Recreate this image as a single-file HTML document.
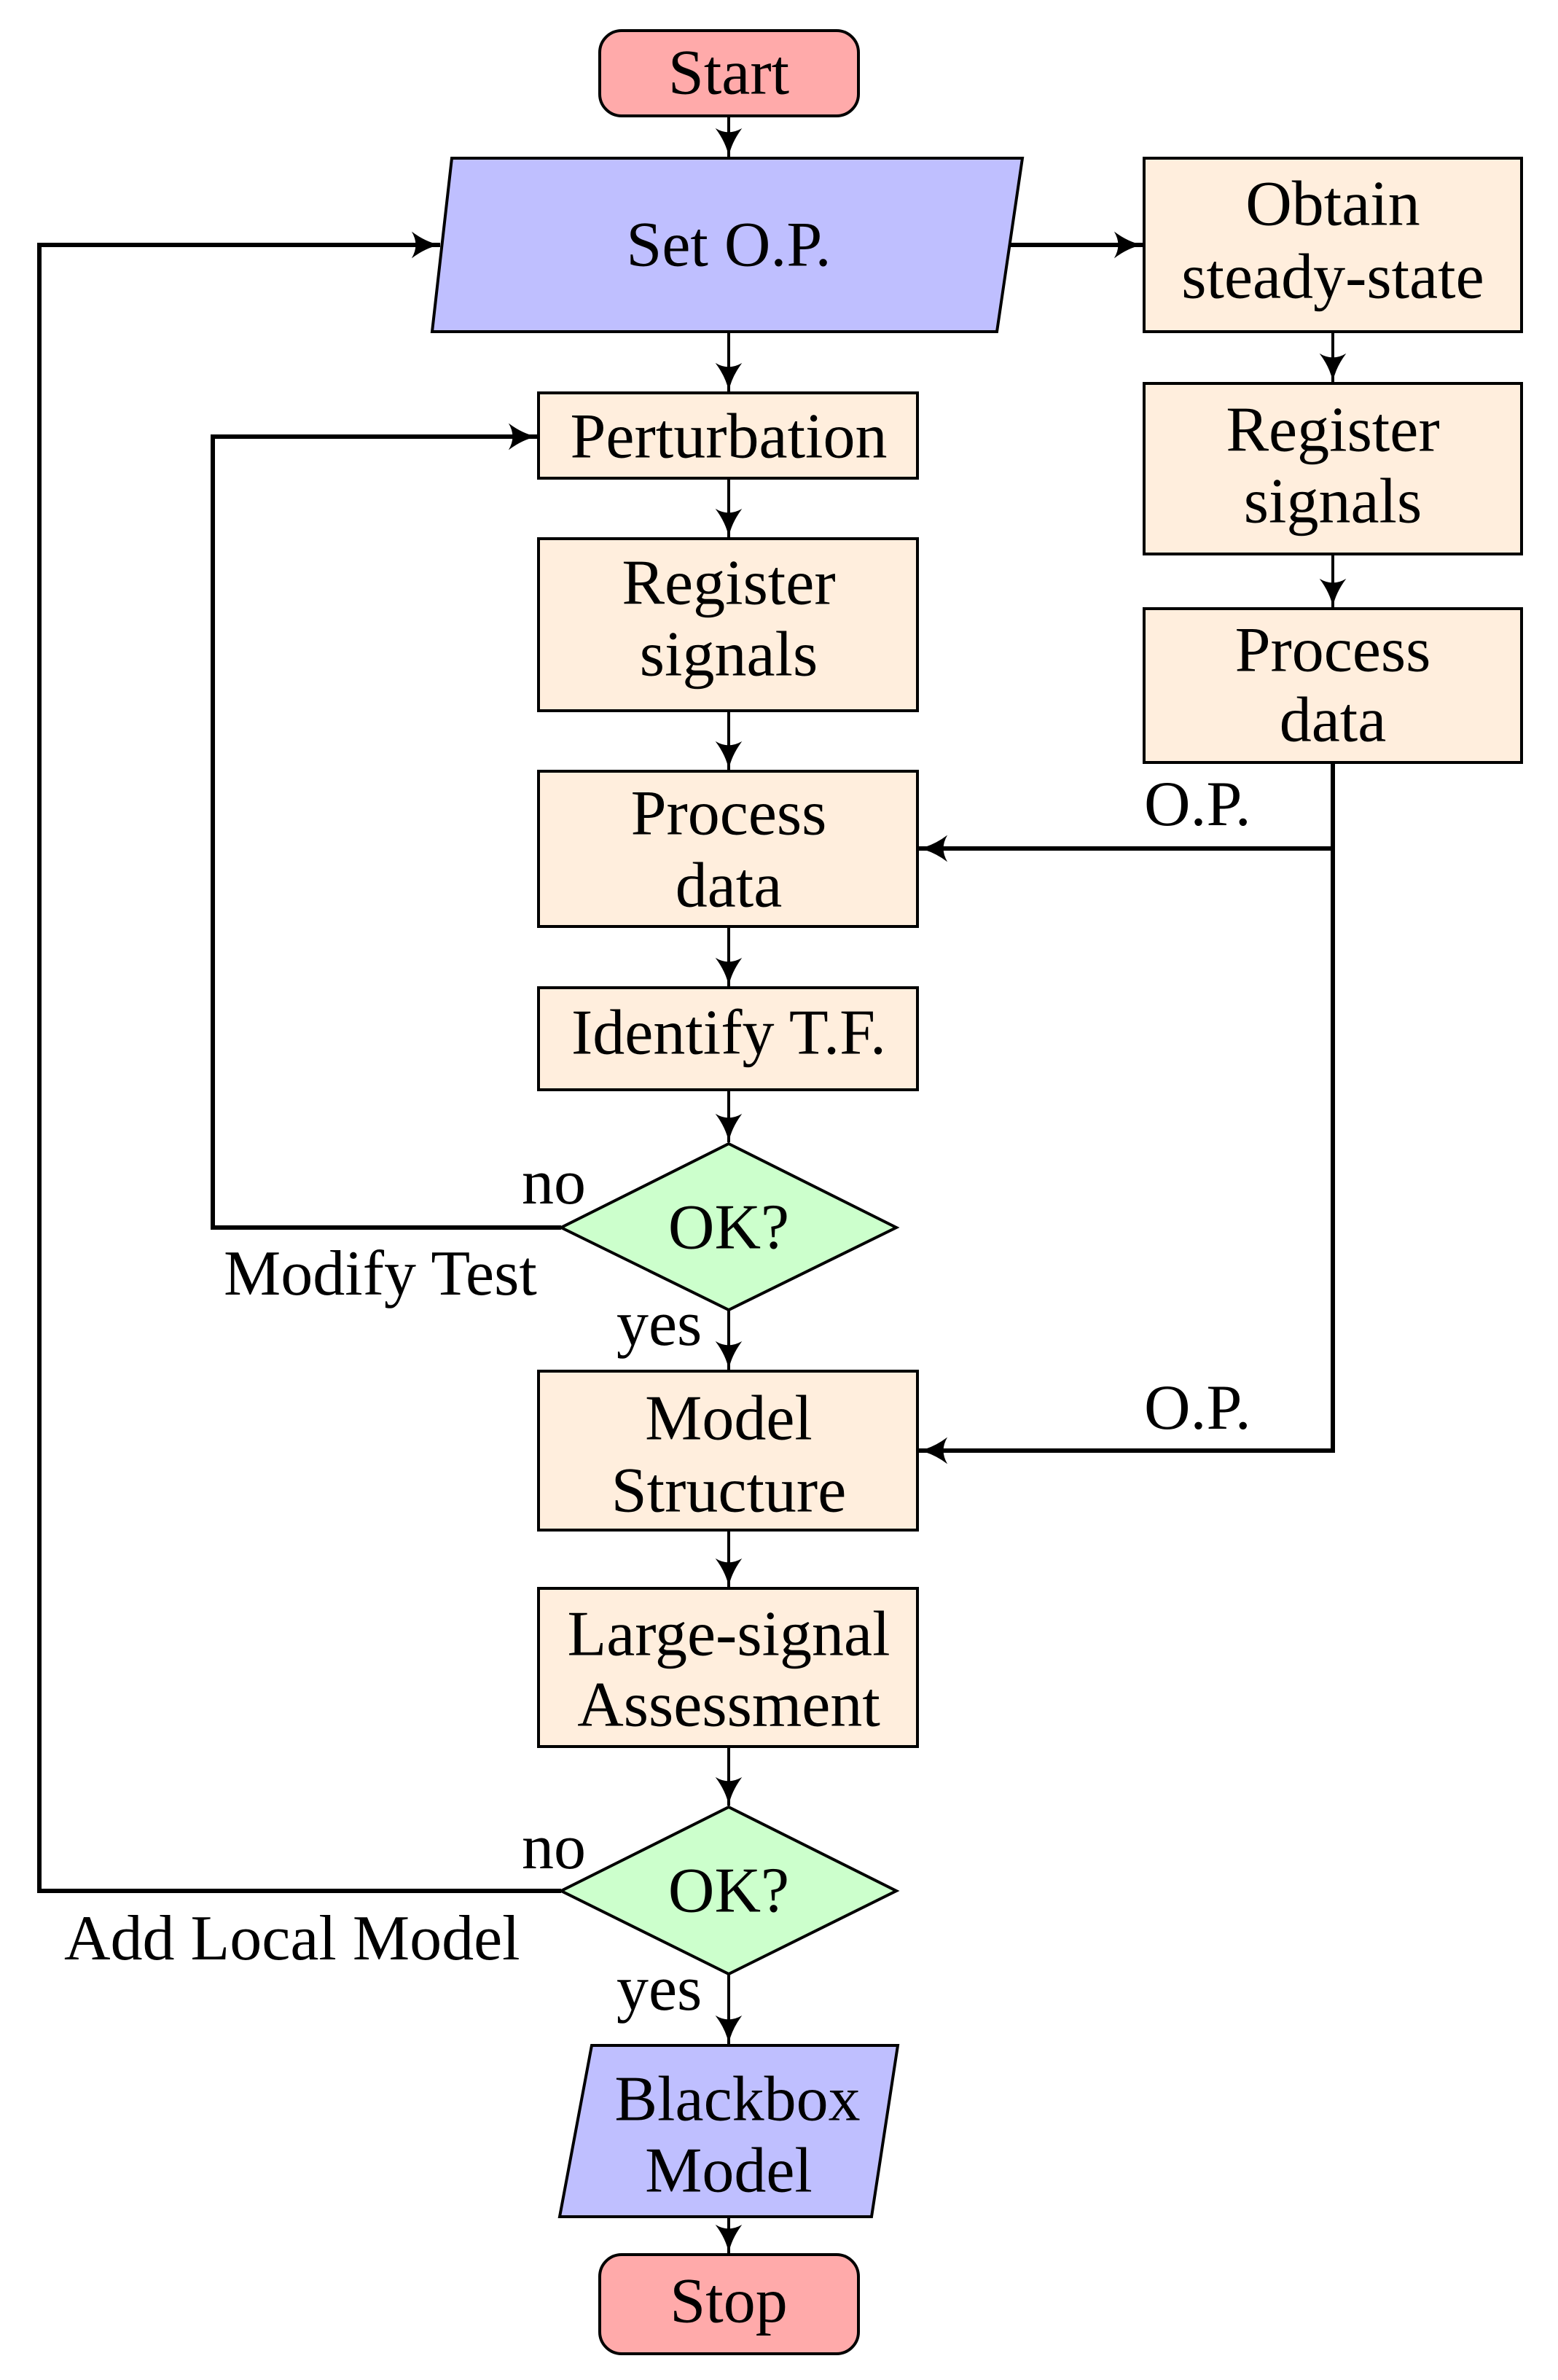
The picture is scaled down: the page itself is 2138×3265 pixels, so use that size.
<!DOCTYPE html>
<html><head><meta charset="utf-8"><style>
html,body{margin:0;padding:0;background:#fff;}
svg{display:block;}
text{font-family:"Liberation Serif",serif;font-size:88px;fill:#000;}
</style></head><body>
<svg width="2138" height="3265" viewBox="0 0 2138 3265" xmlns="http://www.w3.org/2000/svg">
<defs>
<marker id="a" markerUnits="userSpaceOnUse" markerWidth="44" markerHeight="44" viewBox="-34 -17 36 34" refX="0" refY="0" orient="auto">
<path d="M-32,-15 Q-16,-3 0,0 Q-16,3 -32,15 Q-23,0 -32,-15 Z" fill="#000"/>
</marker>
</defs>
<g stroke="#000" stroke-width="4">
<rect x="823" y="42" width="355" height="117" rx="30" fill="#ffaaaa"/>
<polygon points="620,217 1403,217 1368,455 593,455" fill="#bfbfff"/>
<rect x="1570" y="217" width="518" height="238" fill="#ffeedd"/>
<rect x="1570" y="526" width="518" height="234" fill="#ffeedd"/>
<rect x="1570" y="835" width="518" height="211" fill="#ffeedd"/>
<rect x="739" y="539" width="520" height="117" fill="#ffeedd"/>
<rect x="739" y="739" width="520" height="236" fill="#ffeedd"/>
<rect x="739" y="1058" width="520" height="213" fill="#ffeedd"/>
<rect x="739" y="1355" width="520" height="140" fill="#ffeedd"/>
<polygon points="1000,1569 1230,1684 1000,1797 770,1684" fill="#ccffcc"/>
<rect x="739" y="1881" width="520" height="218" fill="#ffeedd"/>
<rect x="739" y="2179" width="520" height="217" fill="#ffeedd"/>
<polygon points="1000,2479 1230,2594 1000,2708 770,2594" fill="#ccffcc"/>
<polygon points="812,2806 1232,2806 1196,3041 768,3041" fill="#bfbfff"/>
<rect x="823" y="3093" width="355" height="136" rx="30" fill="#ffaaaa"/>
</g>
<g stroke="#000" stroke-width="4" fill="none" marker-end="url(#a)">
<line x1="1000" y1="159" x2="1000" y2="215"/>
<line x1="1000" y1="455" x2="1000" y2="537"/>
<line x1="1000" y1="656" x2="1000" y2="737"/>
<line x1="1000" y1="975" x2="1000" y2="1056"/>
<line x1="1000" y1="1271" x2="1000" y2="1353"/>
<line x1="1000" y1="1495" x2="1000" y2="1567"/>
<line x1="1000" y1="1797" x2="1000" y2="1879"/>
<line x1="1000" y1="2099" x2="1000" y2="2177"/>
<line x1="1000" y1="2396" x2="1000" y2="2477"/>
<line x1="1000" y1="2708" x2="1000" y2="2804"/>
<line x1="1000" y1="3041" x2="1000" y2="3091"/>
<line x1="1829" y1="455" x2="1829" y2="524"/>
<line x1="1829" y1="760" x2="1829" y2="833"/>
</g>
<g stroke="#000" stroke-width="6" fill="none" marker-end="url(#a)">
<line x1="1385" y1="336" x2="1568" y2="336"/>
<polyline points="1829,1046 1829,1164 1261,1164"/>
<polyline points="1829,1160 1829,1990 1261,1990"/>
<polyline points="770,1684 292,1684 292,599 737,599"/>
<polyline points="770,2594 54,2594 54,336 604,336"/>
</g>
<g text-anchor="middle" dominant-baseline="central">
<text x="1000" y="100">Start</text>
<text x="1000" y="336">Set O.P.</text>
<text x="1829" y="280">Obtain</text>
<text x="1829" y="380">steady-state</text>
<text x="1829" y="590">Register</text>
<text x="1829" y="688">signals</text>
<text x="1829" y="892">Process</text>
<text x="1829" y="988">data</text>
<text x="1000" y="599">Perturbation</text>
<text x="1000" y="800">Register</text>
<text x="1000" y="898">signals</text>
<text x="1000" y="1116">Process</text>
<text x="1000" y="1215">data</text>
<text x="1000" y="1417">Identify T.F.</text>
<text x="1000" y="1684">OK?</text>
<text x="1000" y="1946">Model</text>
<text x="1000" y="2045">Structure</text>
<text x="1000" y="2242">Large-signal</text>
<text x="1000" y="2339">Assessment</text>
<text x="1000" y="2594">OK?</text>
<text x="1012" y="2880">Blackbox</text>
<text x="1000" y="2978">Model</text>
<text x="1000" y="3157">Stop</text>
</g>
<g>
<text x="1570" y="1132">O.P.</text>
<text x="1570" y="1960">O.P.</text>
<text x="716" y="1651">no</text>
<text x="307" y="1776">Modify Test</text>
<text x="846" y="1845">yes</text>
<text x="716" y="2563">no</text>
<text x="88" y="2688">Add Local Model</text>
<text x="846" y="2757">yes</text>
</g>
</svg>
</body></html>
